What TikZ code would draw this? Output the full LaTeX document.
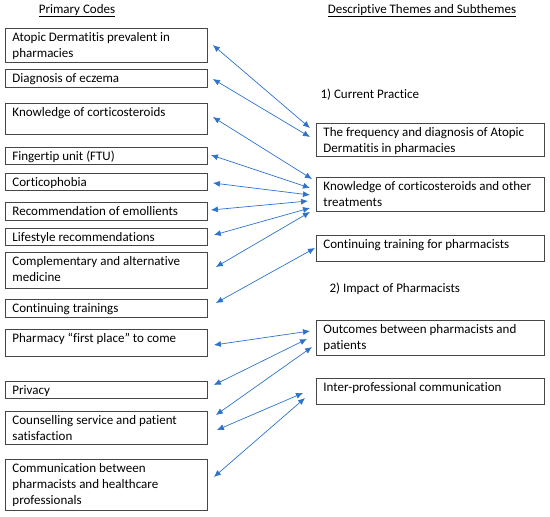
\documentclass[tikz,border=0pt]{standalone}
\usepackage{fontspec}
\setmainfont[Ligatures=NoCommon]{Carlito}
\usetikzlibrary{arrows.meta}
\definecolor{boxgray}{RGB}{70,70,70}
\definecolor{arrowblue}{RGB}{45,115,205}
\tikzset{
  box/.style={draw=boxgray, line width=0.9pt, inner xsep=7pt, inner ysep=0pt, anchor=north west, font=\fontsize{13}{16}\selectfont},
  conn/.style={draw=arrowblue, line width=0.7pt, {Latex[length=7pt,width=6pt]}-{Latex[length=7pt,width=6pt]}},
  head/.style={anchor=base, font=\fontsize{13}{16}\selectfont},
  theme/.style={anchor=base west, font=\fontsize{13}{16}\selectfont}
}
\newcommand\bx[6]{\node[box] (#1) at (#2,#3) {\parbox[t][#5pt][t]{\dimexpr#4pt-14pt\relax}{\raggedright\rule{0pt}{13.5pt}#6}};}
\begin{document}
\begin{tikzpicture}[x=1pt,y=-1pt]
\useasboundingbox (0,0) rectangle (550,517);
\node[head] (h1) at (77,13) {\underline{Primary Codes}};
\node[head] (h2) at (422,13) {\underline{Descriptive Themes and Subthemes}};
\bx{b1}{5}{28}{202}{34}{Atopic Dermatitis prevalent in pharmacies}
\bx{b2}{5}{69}{202}{18}{Diagnosis of eczema}
\bx{b3}{5}{103}{202}{31}{Knowledge of corticosteroids}
\bx{b4}{5}{147}{202}{17}{Fingertip unit (FTU)}
\bx{b5}{5}{173}{202}{17}{Corticophobia}
\bx{b6}{5}{202}{202}{18}{Recommendation of emollients}
\bx{b7}{5}{228}{202}{17}{Lifestyle recommendations}
\bx{b8}{5}{252}{202}{36}{Complementary and alternative medicine}
\bx{b9}{5}{299}{202}{18}{Continuing trainings}
\bx{b10}{5}{329}{202}{27}{Pharmacy “first place” to come}
\bx{b11}{5}{381}{202}{17}{Privacy}
\bx{b12}{5}{411}{202}{33}{Counselling service and patient satisfaction}
\bx{b13}{5}{459}{202}{51}{Communication between pharmacists and healthcare professionals}
\node[theme] (t1) at (317,98) {1) Current Practice};
\node[theme] (t2) at (326,292) {2) Impact of Pharmacists};
\bx{r1}{316}{123}{228}{33}{The frequency and diagnosis of Atopic Dermatitis in pharmacies}
\bx{r2}{316}{177}{228}{34}{Knowledge of corticosteroids and other treatments}
\bx{r3}{316}{235}{228}{26}{Continuing training for pharmacists}
\bx{r4}{316}{320}{228}{35}{Outcomes between pharmacists and patients}
\bx{r5}{316}{378}{228}{26}{Inter-professional communication}
\draw[conn] ([shift={(5,17)}]b1.north east) -- ([shift={(-6,5)}]r1.north west);
\draw[conn] ([shift={(5,10)}]b2.north east) -- ([shift={(-6,14)}]r1.north west);
\draw[conn] ([shift={(5,14)}]b3.north east) -- ([shift={(-4,2)}]r2.north west);
\draw[conn] ([shift={(3,8)}]b4.north east) -- ([shift={(-6,11)}]r2.north west);
\draw[conn] ([shift={(5,10)}]b5.north east) -- ([shift={(-6,18)}]r2.north west);
\draw[conn] ([shift={(3,8)}]b6.north east) -- ([shift={(-8,24)}]r2.north west);
\draw[conn] ([shift={(6,7)}]b7.north east) -- ([shift={(-6,31)}]r2.north west);
\draw[conn] ([shift={(8,15)}]b8.north east) -- ([shift={(-6,35)}]r2.north west);
\draw[conn] ([shift={(8,4)}]b9.north east) -- ([shift={(-1,13)}]r3.north west);
\draw[conn] ([shift={(6,16)}]b10.north east) -- ([shift={(-6,11)}]r4.north west);
\draw[conn] ([shift={(6,4)}]b11.north east) -- ([shift={(-9,19)}]r4.north west);
\draw[conn] ([shift={(8,4)}]b12.north east) -- ([shift={(-4,27)}]r4.north west);
\draw[conn] ([shift={(9,19)}]b12.north east) -- ([shift={(-13,15)}]r5.north west);
\draw[conn] ([shift={(6,18)}]b13.north east) -- ([shift={(-11,20)}]r5.north west);
\end{tikzpicture}
\end{document}
